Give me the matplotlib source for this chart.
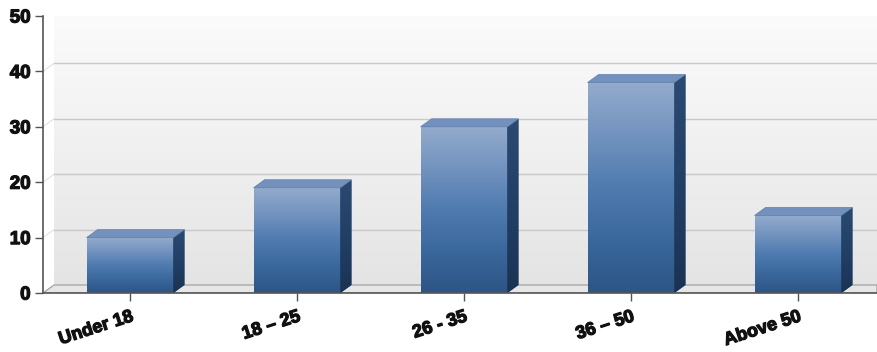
import numpy as np
import matplotlib
matplotlib.use("Agg")
import matplotlib.pyplot as plt
import matplotlib.patheffects as pe
from matplotlib.colors import LinearSegmentedColormap
from matplotlib.patches import Polygon

categories = ["Under 18", "18 \u2013 25", "26 - 35", "36 \u2013 50", "Above 50"]
values = [10, 19, 30, 38, 14]
y_ticks = [0, 10, 20, 30, 40, 50]

plt.rcParams["font.family"] = ["Liberation Sans", "DejaVu Sans"]

W, H = 877, 352
fig = plt.figure(figsize=(W / 100, H / 100), dpi=100)
fig.patch.set_facecolor("white")

# axes box in pixels: left 43, right 877, top 16, bottom 293
ax = fig.add_axes([43 / W, (H - 293) / H, (877 - 43) / W, (293 - 16) / H])
xmin, xmax = -0.521, 4.473
ax.set_xlim(xmin, xmax)
ax.set_ylim(0, 50)
ax.set_facecolor("white")

# 3d depth offsets in data units (~11 px right, ~8 px up)
dx = 11 / 167.0
dy = 8 / 5.54
bar_w = 0.52

# back wall with a soft vertical gradient
wall = np.linspace(0, 1, 256).reshape(-1, 1)
wall_cmap = LinearSegmentedColormap.from_list("wall", ["#e4e4e4", "#f0f0f0", "#fbfbfb"])
ax.imshow(wall, cmap=wall_cmap, origin="lower", aspect="auto",
          extent=(xmin + dx, xmax, dy, 50), zorder=0)

# floor
floor = Polygon([(xmin, 0), (xmin + dx, dy), (xmax, dy), (xmax, 0)],
                closed=True, facecolor="#e6e6e6", edgecolor="#9a9a9a", lw=0.8, zorder=1)
ax.add_patch(floor)

# gridlines on the back wall
for v in y_ticks[1:-1]:
    ax.plot([xmin + dx, xmax], [v + dy, v + dy], color="#c9c9c9", lw=1.0, zorder=1)
    ax.plot([xmin, xmin + dx], [v, v + dy], color="#d8d8d8", lw=0.6, zorder=1)

front_cmap = LinearSegmentedColormap.from_list(
    "front", ["#2d5586", "#3a679c", "#4f7bb0", "#7393bf", "#93abcc"])
side_cmap = LinearSegmentedColormap.from_list("side", ["#1a3354", "#223f66", "#2b4a72"])
grad = np.linspace(0, 1, 256).reshape(-1, 1)

for i, v in enumerate(values):
    x0 = i - bar_w / 2
    x1 = i + bar_w / 2
    # front face
    ax.imshow(grad, cmap=front_cmap, origin="lower", aspect="auto",
              extent=(x0, x1, 0, v), zorder=3)
    # side face
    side = Polygon([(x1, 0), (x1 + dx, dy), (x1 + dx, v + dy), (x1, v)],
                   closed=True, facecolor="#203c62", edgecolor="none", zorder=3)
    ax.add_patch(side)
    sim = ax.imshow(grad, cmap=side_cmap, origin="lower", aspect="auto",
                    extent=(x1, x1 + dx, 0, v + dy), zorder=3)
    sim.set_clip_path(side)
    # top face
    top = Polygon([(x0, v), (x0 + dx, v + dy), (x1 + dx, v + dy), (x1, v)],
                  closed=True, facecolor="#7391bc", edgecolor="#5f7fae", lw=0.5, zorder=4)
    ax.add_patch(top)

# heavier lettering for the tick labels
heavy = [pe.withStroke(linewidth=0.9, foreground="#111111")]

ax.set_xticks(range(len(categories)))
ax.set_xticklabels(categories, rotation=18, ha="right", va="top",
                   rotation_mode="anchor", fontsize=13, fontweight="bold",
                   color="#111111")
ax.set_yticks(y_ticks)
ax.set_yticklabels([str(t) for t in y_ticks], fontsize=13.5, fontweight="bold",
                   color="#111111")
for lbl in ax.get_xticklabels() + ax.get_yticklabels():
    lbl.set_path_effects(heavy)
ax.tick_params(axis="both", length=6, width=1, color="#555555", pad=3)
ax.tick_params(axis="x", pad=5)

for s in ["top", "right"]:
    ax.spines[s].set_visible(False)
ax.spines["left"].set_color("#555555")
ax.spines["bottom"].set_color("#555555")
ax.spines["left"].set_linewidth(1.2)
ax.spines["bottom"].set_linewidth(1.2)
ax.spines["left"].set_zorder(5)
ax.spines["bottom"].set_zorder(5)

fig.savefig("out.png", dpi=100)
